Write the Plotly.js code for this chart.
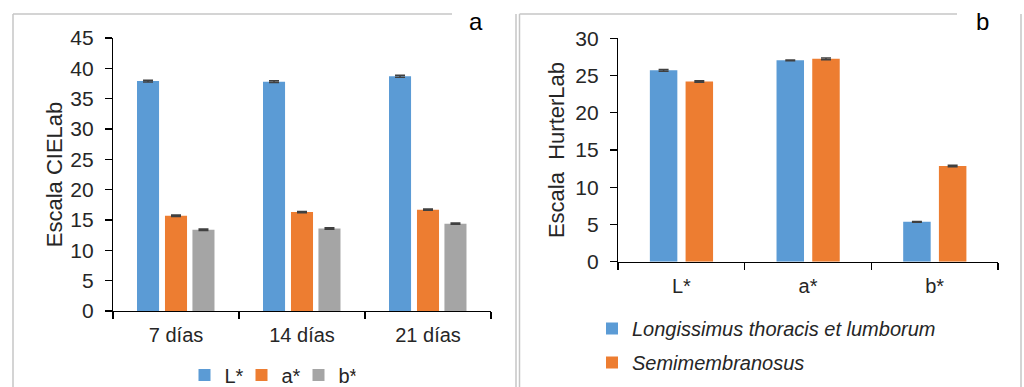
<!DOCTYPE html>
<html>
<head>
<meta charset="utf-8">
<script src="https://cdn.plot.ly/plotly-3.0.1.min.js"></script>
<style>html,body{margin:0;padding:0;background:#fff;}#chart{width:1024px;height:387px;}</style>
</head>
<body>
<div id="chart"></div>
<script>
// ---- Data: panel a (CIELab by storage days) ----
const daysCategories = ["7 días", "14 días", "21 días"];
const Lstar = [37.9, 37.8, 38.7];
const aStar = [15.7, 16.3, 16.7];
const bStar = [13.4, 13.6, 14.4];
const LstarErr = [0.15, 0.15, 0.15];
const aStarErr = [0.12, 0.12, 0.1];
const bStarErr = [0.12, 0.12, 0.12];
const seriesNamesA = ["L*", "a*", "b*"];

// ---- Data: panel b (HunterLab by muscle) ----
const colorCategories = ["L*", "a*", "b*"];
const longissimus = [25.7, 27.05, 5.35];
const semimembranosus = [24.2, 27.25, 12.85];
const longissimusErr = [0.12, 0.05, 0.05];
const semimembranosusErr = [0.1, 0.12, 0.1];
const seriesNamesB = ["Longissimus thoracis et lumborum", "Semimembranosus"];

const BLUE = "#5B9BD5", ORANGE = "#ED7D31", GRAY = "#A5A5A5";
const FONT = "Liberation Sans, Arial, sans-serif";
const TXT = "#262626";

function errY(arr) {
  return {type: "data", array: arr, visible: true, color: "#404040", thickness: 1.5, width: 5};
}

const W = 1024, H = 387;
const px = v => v / W;
const py = v => 1 - v / H;

const wA = 0.175;
const wB = 0.217;

const traces = [
  {type: "bar", x: daysCategories, y: Lstar, name: seriesNamesA[0], marker: {color: BLUE},
   width: wA, offset: -0.222 - wA / 2, error_y: errY(LstarErr), xaxis: "x", yaxis: "y", legend: "legend"},
  {type: "bar", x: daysCategories, y: aStar, name: seriesNamesA[1], marker: {color: ORANGE},
   width: wA, offset: 0 - wA / 2, error_y: errY(aStarErr), xaxis: "x", yaxis: "y", legend: "legend"},
  {type: "bar", x: daysCategories, y: bStar, name: seriesNamesA[2], marker: {color: GRAY},
   width: wA, offset: 0.218 - wA / 2, error_y: errY(bStarErr), xaxis: "x", yaxis: "y", legend: "legend"},
  {type: "bar", x: colorCategories, y: longissimus, name: "<i>" + seriesNamesB[0] + "</i>", marker: {color: BLUE},
   width: wB, offset: -0.14 - wB / 2, error_y: errY(longissimusErr), xaxis: "x2", yaxis: "y2",
   legend: "legend2", legendgroup: "g1"},
  {type: "bar", x: colorCategories, y: semimembranosus, name: "<i>" + seriesNamesB[1] + "</i>", marker: {color: ORANGE},
   width: wB, offset: 0.142 - wB / 2, error_y: errY(semimembranosusErr), xaxis: "x2", yaxis: "y2",
   legend: "legend2", legendgroup: "g2"}
];

const axisCommon = {
  showgrid: false, zeroline: false, showline: true, linecolor: "#000", linewidth: 1.2,
  ticks: "outside", tickcolor: "#000", ticklen: 7, tickwidth: 1.2,
  tickfont: {family: FONT, size: 21, color: TXT}, fixedrange: true
};

const borderColor = "#c6c6c6";
const shapes = [
  // panel a frame
  {type: "line", xref: "paper", yref: "paper", x0: px(13), x1: px(13), y0: 0, y1: py(14), line: {color: borderColor, width: 1.5}},
  {type: "line", xref: "paper", yref: "paper", x0: px(13), x1: px(452), y0: py(14), y1: py(14), line: {color: borderColor, width: 1.5}},
  {type: "line", xref: "paper", yref: "paper", x0: px(516), x1: px(516), y0: 0, y1: py(14), line: {color: borderColor, width: 1.5}},
  // panel b frame
  {type: "line", xref: "paper", yref: "paper", x0: px(519.5), x1: px(519.5), y0: 0, y1: py(14), line: {color: borderColor, width: 1.5}},
  {type: "line", xref: "paper", yref: "paper", x0: px(519.5), x1: px(957), y0: py(14), y1: py(14), line: {color: borderColor, width: 1.5}},
  {type: "line", xref: "paper", yref: "paper", x0: px(1021), x1: px(1021), y0: 0, y1: py(14), line: {color: borderColor, width: 1.5}}
];

const layout = {
  width: W, height: H,
  margin: {l: 0, r: 0, t: 0, b: 0, autoexpand: false},
  paper_bgcolor: "#fff", plot_bgcolor: "rgba(0,0,0,0)",
  font: {family: FONT, color: TXT},
  barmode: "group",
  showlegend: true,
  xaxis: Object.assign({}, axisCommon, {domain: [px(113), px(491)], anchor: "y", tickson: "boundaries",
    tickfont: {family: FONT, size: 20, color: TXT}, ticklabelstandoff: 6}),
  yaxis: Object.assign({}, axisCommon, {domain: [py(311), py(38)], anchor: "x", range: [0, 45], dtick: 5,
    ticklabelstandoff: 7,
    title: {text: "Escala CIELab", font: {family: FONT, size: 22, color: TXT}, standoff: 1}}),
  xaxis2: Object.assign({}, axisCommon, {domain: [px(618), px(998)], anchor: "y2", tickson: "boundaries",
    tickfont: {family: FONT, size: 20, color: TXT}, ticklabelstandoff: 6}),
  yaxis2: Object.assign({}, axisCommon, {domain: [py(261.7), py(38.3)], anchor: "x2", range: [0, 30], dtick: 5,
    ticklabelstandoff: 7,
    title: {text: "Escala&nbsp; HurterLab", font: {family: FONT, size: 22, color: TXT}, standoff: 4}}),
  legend: {orientation: "h", x: px(270), xanchor: "center", y: py(375), yanchor: "middle",
    font: {family: FONT, size: 20, color: TXT}, bgcolor: "rgba(0,0,0,0)", itemwidth: 30,
    entrywidth: 12, entrywidthmode: "pixels", itemclick: false},
  legend2: {orientation: "v", x: px(592), xanchor: "left", y: py(345.5), yanchor: "middle",
    font: {family: FONT, size: 20, color: TXT}, bgcolor: "rgba(0,0,0,0)", itemwidth: 30,
    traceorder: "grouped", tracegroupgap: 5, itemclick: false},
  annotations: [
    {xref: "paper", yref: "paper", x: px(476), y: py(22), text: "a", showarrow: false,
     font: {family: FONT, size: 24, color: "#000"}, xanchor: "center", yanchor: "middle"},
    {xref: "paper", yref: "paper", x: px(982), y: py(22), text: "b", showarrow: false,
     font: {family: FONT, size: 24, color: "#000"}, xanchor: "center", yanchor: "middle"}
  ],
  shapes: shapes
};

Plotly.newPlot("chart", traces, layout, {displayModeBar: false, staticPlot: true});
</script>
</body>
</html>
